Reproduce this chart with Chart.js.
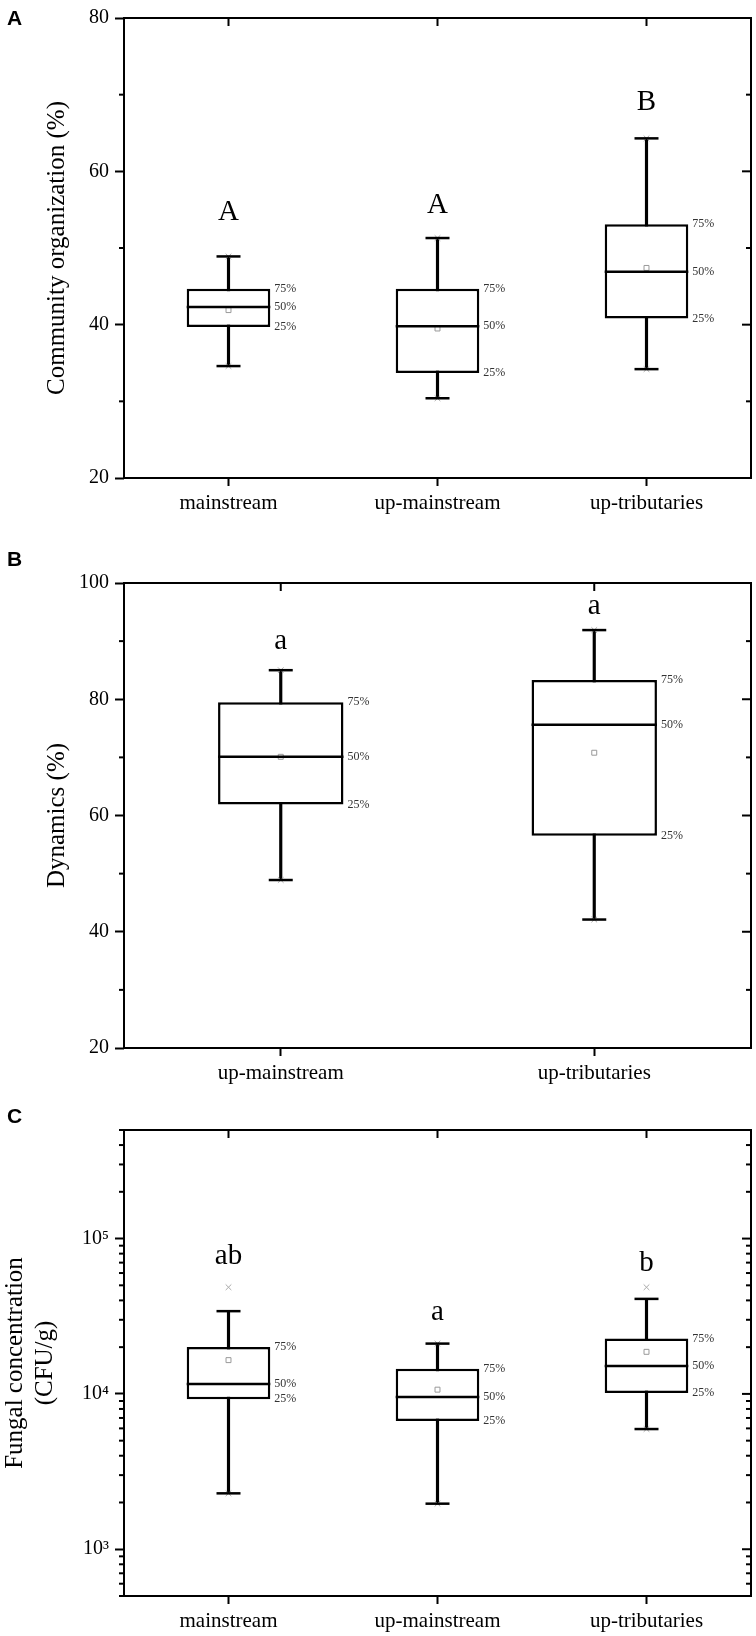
<!DOCTYPE html>
<html>
<head>
<meta charset="utf-8">
<script src="https://cdn.jsdelivr.net/npm/chart.js@4.4.1/dist/chart.umd.min.js"></script>
<style>
  body { margin: 0; background: #fff; width: 756px; height: 1636px; position: relative; overflow: hidden; }
  canvas { position: absolute; left: 0; }
  .tag { position: absolute; left: 7px; font: bold 21px 'Liberation Sans', Arial, sans-serif; line-height: 21px; z-index: 2; }
</style>
</head>
<body>
<div class="tag" style="top:7px">A</div>
<div class="tag" style="top:548px">B</div>
<div class="tag" style="top:1105px">C</div>
<canvas id="orgChart" width="756" height="518" style="top:0"></canvas>
<canvas id="dynChart" width="756" height="548" style="top:540px"></canvas>
<canvas id="fungChart" width="756" height="536" style="top:1100px"></canvas>
<script>
// Panel A - community organization (%)
const orgSites = ["mainstream", "up-mainstream", "up-tributaries"];
const orgLow = [34.6, 30.4, 34.2];
const orgQ1 = [39.7, 33.7, 40.8];
const orgMedian = [42.3, 39.8, 46.9];
const orgQ3 = [44.7, 44.7, 53.1];
const orgHigh = [48.9, 51.3, 64.3];
const orgMean = [41.9, 39.5, 47.4];
const orgLetters = ["A", "A", "B"];
const orgLetterAt = [53.7, 54.6, 68.0];
const orgTicks = [20, 40, 60, 80];

// Panel B - dynamics (%)
const dynSites = ["up-mainstream", "up-tributaries"];
const dynLow = [48.9, 42.1];
const dynQ1 = [61.9, 56.5];
const dynMedian = [70.1, 75.6];
const dynQ3 = [79.5, 83.3];
const dynHigh = [85.0, 91.9];
const dynMean = [70.1, 70.8];
const dynLetters = ["a", "a"];
const dynLetterAt = [88.7, 94.6];
const dynTicks = [20, 40, 60, 80, 100];

// Panel C - fungal concentration (CFU/g), log axis
const fungSites = ["mainstream", "up-mainstream", "up-tributaries"];
const fungLow = [2290, 1965, 5940];
const fungQ1 = [9250, 6680, 10140];
const fungMedian = [11600, 9540, 15100];
const fungQ3 = [20070, 14500, 22700];
const fungHigh = [34100, 21080, 40900];
const fungMean = [16500, 10650, 18660];
const fungMin = [2290, 1965, 5940];
const fungMax = [48600, 21080, 48600];
const fungLetters = ["ab", "a", "b"];
const fungLetterAt = [68600, 30100, 62200];
const fungTicks = [1000, 10000, 100000];
const fungTickText = ["10³", "10⁴", "10⁵"];

Chart.defaults.font.family = "'Liberation Serif', 'Times New Roman', serif";
Chart.defaults.color = "#000";

const BOX_LINE = 2.5;

function line(ctx, x1, y1, x2, y2) {
    ctx.beginPath();
    ctx.moveTo(x1, y1);
    ctx.lineTo(x2, y2);
    ctx.stroke();
}

// caps, medians, percent tags, letters, frame and the extra ticks
function boxExtras(o) {
    return {
        id: "boxExtras",
        afterDatasetsDraw(chart) {
            const { ctx, scales: { y } } = chart;
            const boxes = chart.getDatasetMeta(0).data;
            ctx.save();
            ctx.strokeStyle = "#000";
            ctx.lineWidth = BOX_LINE;
            boxes.forEach((bar, i) => {
                const half = bar.width / 2;
                const ym = y.getPixelForValue(o.median[i]);
                line(ctx, bar.x - half, ym, bar.x + half, ym);
                [o.low[i], o.high[i]].forEach(v => {
                    const yy = y.getPixelForValue(v);
                    line(ctx, bar.x - 12, yy, bar.x + 12, yy);
                });
                ctx.font = "12px 'Liberation Serif'";
                ctx.fillStyle = "#333";
                ctx.textAlign = "left";
                ctx.textBaseline = "middle";
                ctx.fillText("75%", bar.x + half + 4, y.getPixelForValue(o.q3[i]));
                ctx.fillText("50%", bar.x + half + 4, ym);
                ctx.fillText("25%", bar.x + half + 4, y.getPixelForValue(o.q1[i]));
                ctx.font = "29px 'Liberation Serif'";
                ctx.fillStyle = "#000";
                ctx.textAlign = "center";
                ctx.textBaseline = "alphabetic";
                ctx.fillText(o.letters[i], bar.x, y.getPixelForValue(o.letterAt[i]));
            });
            ctx.restore();
        },
        afterDraw(chart) {
            const { ctx, chartArea: a, scales: { x, y } } = chart;
            ctx.save();
            ctx.strokeStyle = "#000";
            ctx.lineWidth = 2;
            ctx.strokeRect(a.left, a.top, a.right - a.left, a.bottom - a.top);
            let minor = [];
            if (o.log) {
                for (let p = 100; p <= 100000; p *= 10)
                    for (let k = 2; k <= 9; k++) minor.push(k * p);
            } else {
                for (let v = o.min + 10; v < o.max; v += 20) minor.push(v);
            }
            minor = minor.filter(v => v >= o.min && v <= o.max);
            minor.forEach(v => {
                const py = y.getPixelForValue(v);
                line(ctx, a.left - 5, py, a.left, py);
                line(ctx, a.right - 5, py, a.right, py);
            });
            o.ticks.forEach(v => {
                const py = y.getPixelForValue(v);
                line(ctx, a.right - 9, py, a.right, py);
            });
            chart.data.labels.forEach((l, i) => {
                const px = x.getPixelForValue(i);
                line(ctx, px, a.top, px, a.top + 8);
            });
            ctx.restore();
        }
    };
}

function boxChart(id, o) {
    return new Chart(document.getElementById(id), {
        type: "bar",
        data: {
            labels: o.labels,
            datasets: [
                {
                    data: o.q1.map((v, i) => [v, o.q3[i]]),
                    backgroundColor: "#fff",
                    borderColor: "#000",
                    borderWidth: BOX_LINE,
                    borderSkipped: false,
                    barPercentage: 0.4,
                    categoryPercentage: 1,
                    grouped: false,
                    order: 2
                },
                {
                    data: o.low.map((v, i) => [v, o.high[i]]),
                    backgroundColor: "#000",
                    barThickness: BOX_LINE,
                    grouped: false,
                    order: 3
                },
                {
                    type: "line",
                    data: o.mean,
                    showLine: false,
                    pointStyle: "rect",
                    pointRadius: 3.5,
                    pointBorderColor: "#999",
                    pointBackgroundColor: "#fff",
                    pointBorderWidth: 1,
                    order: 0
                },
                {
                    type: "line",
                    data: o.maxPts,
                    showLine: false,
                    pointStyle: "crossRot",
                    pointRadius: 4,
                    pointBorderColor: "#aaa",
                    pointBorderWidth: 1,
                    order: 1
                },
                {
                    type: "line",
                    data: o.minPts,
                    showLine: false,
                    pointStyle: "crossRot",
                    pointRadius: 4,
                    pointBorderColor: "#aaa",
                    pointBorderWidth: 1,
                    order: 1
                }
            ]
        },
        options: {
            responsive: false,
            animation: false,
            devicePixelRatio: 1,
            layout: { padding: { top: o.padTop, right: 5, left: 0, bottom: 0 } },
            plugins: { legend: { display: false }, tooltip: { enabled: false } },
            scales: {
                x: {
                    offset: true,
                    border: { display: false },
                    grid: { offset: false, drawOnChartArea: false, tickLength: 8, tickWidth: 2, tickColor: "#000" },
                    ticks: { font: { size: 21 }, color: "#000", padding: 5, maxRotation: 0, autoSkip: false },
                    afterFit: s => { s.height = 40; }
                },
                y: {
                    type: o.log ? "logarithmic" : "linear",
                    min: o.min,
                    max: o.max,
                    border: { display: false },
                    grid: { drawOnChartArea: false, tickLength: 9, tickWidth: 2, tickColor: "#000" },
                    ticks: {
                        font: { size: 20 },
                        color: "#000",
                        padding: 6,
                        callback: o.tickText ? (v => o.tickText[o.ticks.indexOf(v)]) : (v => v)
                    },
                    afterBuildTicks: s => { s.ticks = o.ticks.map(v => ({ value: v })); },
                    afterFit: s => { s.width = 124; },
                    title: { display: true, text: o.title, font: { size: 25 }, color: "#000", padding: { top: o.titlePad, bottom: 0 } }
                }
            }
        },
        plugins: [boxExtras(o)]
    });
}

boxChart("orgChart", {
    labels: orgSites, low: orgLow, q1: orgQ1, median: orgMedian, q3: orgQ3, high: orgHigh,
    mean: orgMean, minPts: orgLow, maxPts: orgHigh, letters: orgLetters, letterAt: orgLetterAt,
    ticks: orgTicks, min: 20, max: 80, title: "Community organization (%)", titlePad: 42, padTop: 13
});

boxChart("dynChart", {
    labels: dynSites, low: dynLow, q1: dynQ1, median: dynMedian, q3: dynQ3, high: dynHigh,
    mean: dynMean, minPts: dynLow, maxPts: dynHigh, letters: dynLetters, letterAt: dynLetterAt,
    ticks: dynTicks, min: 20, max: 100, title: "Dynamics (%)", titlePad: 42, padTop: 43
});

boxChart("fungChart", {
    labels: fungSites, low: fungLow, q1: fungQ1, median: fungMedian, q3: fungQ3, high: fungHigh,
    mean: fungMean, minPts: fungMin, maxPts: fungMax, letters: fungLetters, letterAt: fungLetterAt,
    ticks: fungTicks, tickText: fungTickText, log: true, min: 500, max: 500000,
    title: ["Fungal concentration", "(CFU/g)"], titlePad: 0, padTop: 30
});
</script>
</body>
</html>
